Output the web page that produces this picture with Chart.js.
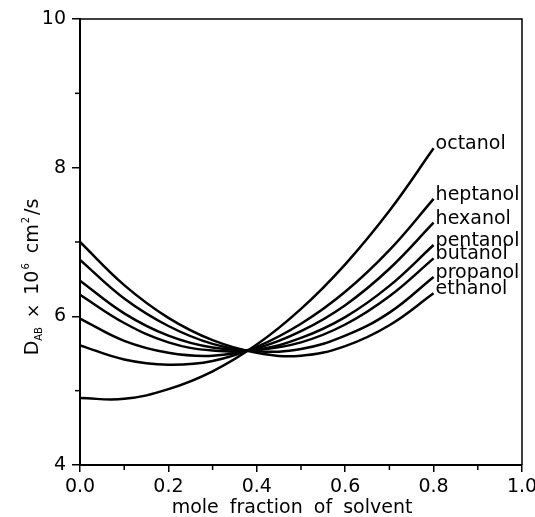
<!DOCTYPE html>
<html>
<head>
<meta charset="utf-8">
<script src="https://cdn.jsdelivr.net/npm/chart.js@4/dist/chart.umd.min.js"></script>
<style>
  html, body { margin: 0; padding: 0; background: #fff; }
  canvas { display: block; }
</style>
</head>
<body>
<canvas id="diffChart" width="535" height="517"></canvas>
<script>
// mole fraction of solvent (x) at which values were read
const moleFractions = [0.0, 0.1, 0.2, 0.3, 0.4, 0.5, 0.6, 0.7, 0.8];

// D_AB x 10^6 (cm2/s)
const ethanol  = [7.00, 6.42, 5.98, 5.68, 5.51, 5.47, 5.60, 5.88, 6.31];
const propanol = [6.76, 6.24, 5.87, 5.63, 5.53, 5.56, 5.74, 6.05, 6.53];
const butanol  = [6.48, 6.04, 5.74, 5.58, 5.55, 5.65, 5.89, 6.27, 6.78];
const pentanol = [6.29, 5.91, 5.65, 5.54, 5.55, 5.71, 5.99, 6.41, 6.96];
const hexanol  = [5.97, 5.67, 5.51, 5.47, 5.57, 5.80, 6.15, 6.64, 7.26];
const heptanol = [5.61, 5.42, 5.35, 5.40, 5.59, 5.90, 6.33, 6.89, 7.58];
const octanol  = [4.90, 4.89, 5.02, 5.26, 5.62, 6.10, 6.70, 7.42, 8.26];

const seriesNames = ['ethanol', 'propanol', 'butanol', 'pentanol', 'hexanol', 'heptanol', 'octanol'];
const seriesValues = [ethanol, propanol, butanol, pentanol, hexanol, heptanol, octanol];

const xTicks = [0.0, 0.2, 0.4, 0.6, 0.8, 1.0];
const yTicks = [4, 6, 8, 10];
const xMinorTicks = [0.1, 0.3, 0.5, 0.7, 0.9];
const yMinorTicks = [5, 7, 9];

const FONT = '"DejaVu Sans", "Liberation Sans", sans-serif';

document.addEventListener('DOMContentLoaded', function() {
    const datasets = seriesValues.map(function(vals, i) {
        return {
            label: seriesNames[i],
            data: moleFractions.map((x, j) => ({ x: x, y: vals[j] })),
            borderColor: '#000',
            borderWidth: 2.5,
            pointRadius: 0,
            fill: false,
            tension: 0.4
        };
    });

    // --- extras: frame, minor ticks, curve labels, axis titles ---
    const extras = {
        id: 'extras',
        afterDraw(chart) {
            const ctx = chart.ctx;
            const a = chart.chartArea;
            const xs = chart.scales.x, ys = chart.scales.y;
            ctx.save();
            ctx.strokeStyle = '#000';

            // top + right frame
            ctx.lineWidth = 1.5;
            ctx.beginPath();
            ctx.moveTo(a.left, a.top);
            ctx.lineTo(a.right, a.top);
            ctx.lineTo(a.right, a.bottom);
            ctx.stroke();

            // minor ticks
            xMinorTicks.forEach(v => {
                const px = xs.getPixelForValue(v);
                ctx.beginPath();
                ctx.moveTo(px, a.bottom);
                ctx.lineTo(px, a.bottom + 5);
                ctx.stroke();
            });
            yMinorTicks.forEach(v => {
                const py = ys.getPixelForValue(v);
                ctx.beginPath();
                ctx.moveTo(a.left, py);
                ctx.lineTo(a.left - 5, py);
                ctx.stroke();
            });

            // curve labels at the end of each line
            ctx.fillStyle = '#000';
            ctx.font = '19px ' + FONT;
            ctx.textAlign = 'left';
            ctx.textBaseline = 'alphabetic';
            chart.data.datasets.forEach((ds, i) => {
                const pts = chart.getDatasetMeta(i).data;
                const last = pts[pts.length - 1];
                ctx.fillText(ds.label, last.x + 2, last.y + 1);
            });

            // x title
            ctx.font = '19px ' + FONT;
            ctx.textAlign = 'center';
            ctx.textBaseline = 'middle';
            if ('wordSpacing' in ctx) ctx.wordSpacing = '5px';
            ctx.fillText('mole fraction of solvent', 292, 508);
            if ('wordSpacing' in ctx) ctx.wordSpacing = '0px';

            // y title: D_AB x 10^6 cm^2/s, rotated
            const parts = [
                { t: 'D', size: 19, dy: 0, gap: 0 },
                { t: 'AB', size: 10, dy: 4, gap: 0 },
                { t: '×', size: 17, dy: 0, gap: 9 },
                { t: '10', size: 19, dy: 0, gap: 9 },
                { t: '6', size: 10, dy: -9, gap: 1 },
                { t: 'cm', size: 19, dy: 0, gap: 10 },
                { t: '2', size: 10, dy: -9, gap: 1 },
                { t: '/s', size: 19, dy: 0, gap: 2 }
            ];
            let total = 0;
            parts.forEach(p => {
                ctx.font = p.size + 'px ' + FONT;
                p.w = ctx.measureText(p.t).width;
                total += p.gap + p.w;
            });
            ctx.translate(33, 277);
            ctx.rotate(-Math.PI / 2);
            ctx.textAlign = 'left';
            ctx.textBaseline = 'middle';
            let cx = -total / 2;
            parts.forEach(p => {
                cx += p.gap;
                ctx.font = p.size + 'px ' + FONT;
                ctx.fillText(p.t, cx, p.dy + (p.size < 19 ? 2 : 0));
                cx += p.w;
            });
            ctx.restore();
        }
    };

    new Chart(document.getElementById('diffChart').getContext('2d'), {
        type: 'line',
        data: { datasets: datasets },
        options: {
            responsive: false,
            animation: false,
            devicePixelRatio: 1,
            layout: { padding: { top: 19, right: 13, left: 0, bottom: 0 } },
            plugins: { legend: { display: false }, tooltip: { enabled: false } },
            scales: {
                x: {
                    type: 'linear',
                    min: 0, max: 1,
                    afterBuildTicks: s => { s.ticks = xTicks.map(v => ({ value: v })); },
                    afterFit: s => { s.height = 52; s.paddingLeft = 0; s.paddingRight = 0; },
                    ticks: {
                        callback: v => v.toFixed(1),
                        color: '#000',
                        font: { family: FONT, size: 19 },
                        padding: 4,
                        maxRotation: 0
                    },
                    grid: { drawOnChartArea: false, color: '#000', lineWidth: 1.5, tickLength: 7 },
                    border: { color: '#000', width: 2 }
                },
                y: {
                    min: 4, max: 10,
                    afterBuildTicks: s => { s.ticks = yTicks.map(v => ({ value: v })); },
                    afterFit: s => { s.width = 80; s.paddingTop = 0; s.paddingBottom = 0; },
                    ticks: {
                        color: '#000',
                        font: { family: FONT, size: 19 },
                        padding: 6
                    },
                    grid: { drawOnChartArea: false, color: '#000', lineWidth: 1.5, tickLength: 8 },
                    border: { color: '#000', width: 2 }
                }
            }
        },
        plugins: [extras]
    });
});
</script>
</body>
</html>
